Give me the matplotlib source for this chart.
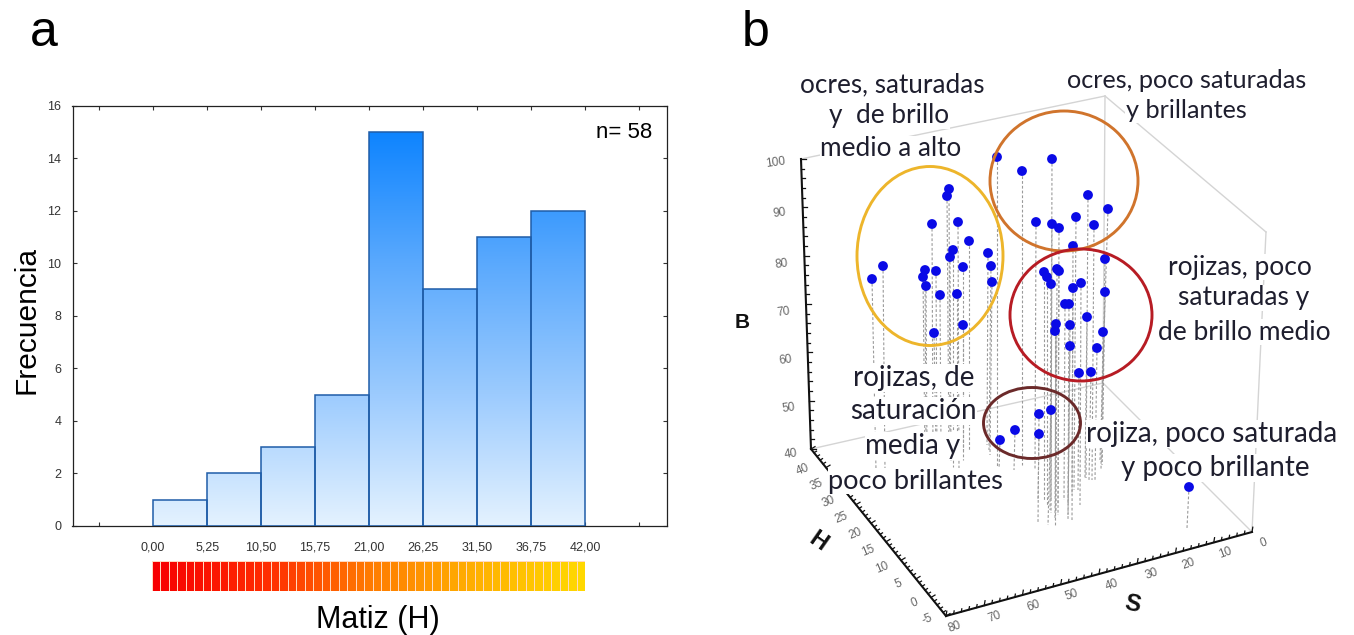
import numpy as np
import matplotlib
matplotlib.use("Agg")
import matplotlib.pyplot as plt
from matplotlib.patches import Ellipse
from matplotlib.colors import LinearSegmentedColormap

W, H = 1354, 635

# panel a
bin_edges = [0.00, 5.25, 10.50, 15.75, 21.00, 26.25, 31.50, 36.75, 42.00]
bin_labels = ["0,00", "5,25", "10,50", "15,75", "21,00", "26,25", "31,50", "36,75", "42,00"]
freq = [1, 2, 3, 5, 15, 9, 11, 12]
y_ticks = [0, 2, 4, 6, 8, 10, 12, 14, 16]

# panel b
pt_x = [997, 1022, 1052, 1088, 1108, 1036, 1052, 1059, 1076, 1094, 1073, 1105,
        949, 947, 932, 958, 969, 988, 991, 992, 953, 950, 963,
        883, 872, 925, 923, 936, 926, 940, 957, 963, 934,
        1044, 1047, 1051, 1057, 1059, 1081, 1073, 1105, 1065, 1069, 1087,
        1056, 1055, 1070, 1103, 1070, 1097, 1079, 1091,
        1051, 1039, 1015, 1000, 1039, 1189]
pt_y = [157, 171, 159, 195, 209, 222, 224, 228, 217, 225, 246, 259,
        189, 196, 224, 222, 241, 253, 266, 282, 250, 257, 267,
        266, 279, 270, 277, 271, 286, 295, 294, 325, 333,
        272, 277, 284, 269, 271, 283, 288, 292, 304, 304, 317,
        324, 331, 325, 332, 346, 348, 373, 372,
        410, 414, 430, 440, 434, 487]
stem_x = [997, 1022, 1051, 1086, 1100, 1035, 1051, 1058, 1074, 1092, 1072, 1102,
          950, 949, 933, 959, 969, 987, 989, 990, 953, 951, 963,
          885, 876, 926, 925, 937, 927, 941, 957, 963, 936,
          1044, 1047, 1050, 1056, 1058, 1080, 1072, 1102, 1064, 1068, 1085,
          1055, 1055, 1068, 1101, 1068, 1095, 1078, 1089,
          1048, 1038, 1014, 999, 1038, 1187]
stem_y = [470, 465, 513, 478, 460, 470, 500, 505, 490, 480, 495, 462,
          455, 460, 455, 470, 450, 445, 450, 455, 467, 462, 450,
          470, 470, 450, 455, 460, 450, 445, 460, 460, 450,
          500, 505, 510, 513, 515, 505, 520, 465, 500, 505, 478,
          520, 525, 520, 470, 515, 480, 490, 480,
          525, 523, 470, 470, 500, 528]

b_labels = ["100", "90", "80", "70", "60", "50", "40"]
b_label_x = [775, 780, 782, 784, 786, 789, 791]
b_label_y = [163, 213, 264, 312, 360, 408, 454]
h_labels = ["40", "35", "30", "25", "20", "15", "10", "5", "0", "-5"]
h_label_x = [803, 816, 828, 841, 855, 868, 882, 898, 914, 927]
h_label_y = [470, 485, 502, 518, 534, 551, 568, 584, 603, 619]
s_labels = ["80", "70", "60", "50", "40", "30", "20", "10", "0"]
s_label_x = [955, 995, 1034, 1072, 1112, 1152, 1189, 1225, 1264]
s_label_y = [627, 617, 606, 595, 585, 574, 564, 553, 543]

# cube corners
top_left = (801, 159)
bot_left = (811, 449)
front = (946, 616)
right = (1252, 532)
back_top = (1105, 96)
back_bot = (1103, 383)
side_top = (1266, 232)

ellipses = [
    (930, 256, 146, 179, "#EDB52B"),
    (1064, 181, 148, 140, "#D0742C"),
    (1081, 315, 142, 132, "#B71C24"),
    (1032, 423, 97, 71, "#6B2A2A"),
]

notes = [
    ("ocres, saturadas", 892, 85, 18.8),
    ("y  de brillo", 889, 116, 18.8),
    ("medio a alto", 891, 149, 18.8),
    ("ocres, poco saturadas", 1187, 81, 18.2),
    ("y brillantes", 1186, 111, 18.2),
    ("rojizas, poco", 1240, 267, 19),
    ("saturadas y", 1244, 298, 19),
    ("de brillo medio", 1244, 332, 19),
    ("rojizas, de", 914, 378, 20),
    ("saturación", 913, 411, 20),
    ("media y", 913, 446, 20),
    ("poco brillantes", 916, 481, 19.6),
    ("rojiza, poco saturada", 1212, 434, 20),
    ("y poco brillante", 1215, 468, 20),
]

fig = plt.figure(figsize=(W / 100, H / 100), dpi=100, facecolor="white")


def rect(x0, y0, x1, y1):
    return [x0 / W, 1 - y1 / H, (x1 - x0) / W, (y1 - y0) / H]


# ---- histogram
ax = fig.add_axes(rect(72.5, 105.5, 667, 526))
grad = LinearSegmentedColormap.from_list("g", ["#E4F2FF", "#9CCBFE", "#5AA9FD", "#0E84FF"])
ramp = np.linspace(0, 1, 256).reshape(-1, 1)
for i, n in enumerate(freq):
    bar = ax.bar(bin_edges[i], n, width=bin_edges[i + 1] - bin_edges[i], align="edge",
                 facecolor="none", edgecolor="#1F5DA8", linewidth=1.1, zorder=3)[0]
    im = ax.imshow(ramp, origin="lower", extent=[-8, 50, 0, 15], cmap=grad,
                   aspect="auto", zorder=2)
    im.set_clip_path(bar)

ax.set_xlim(-7.84, 49.97)
ax.set_ylim(0, 16)
ax.set_yticks(y_ticks)
ax.set_xticks([-5.25] + bin_edges + [47.25])
ax.set_xticklabels([""] + bin_labels + [""])
ax.tick_params(axis="both", direction="in", length=3, width=0.8, color="#333333",
               top=True, right=True, labelsize=9, labelcolor="#333333")
ax.tick_params(axis="x", pad=11)
ax.tick_params(axis="y", pad=8)
for lab in ax.get_xticklabels() + ax.get_yticklabels():
    lab.set_family("Liberation Sans")
for s in ax.spines.values():
    s.set_linewidth(0.9)
    s.set_color("#222222")

# colour strip under the histogram
strip = fig.add_axes(rect(152, 561, 585, 591))
hue = LinearSegmentedColormap.from_list("h", ["#F70000", "#FF2A00", "#FF7A00", "#FFB000", "#FFD800"])
strip.pcolormesh(np.linspace(0, 1, 52), [0, 1], np.linspace(0, 1, 51).reshape(1, -1),
                 cmap=hue, edgecolors="#FFD9C0", linewidth=0.4)
strip.axis("off")

# ---- overlay in picture coordinates, used for panel b and the big labels
ov = fig.add_axes([0, 0, 1, 1], facecolor="none")
ov.set_xlim(0, W)
ov.set_ylim(H, 0)
ov.axis("off")

arial = "Liberation Sans"
ov.text(44, 33, "a", fontsize=36, family=arial, ha="center", va="center")
ov.text(756, 33, "b", fontsize=36, family=arial, ha="center", va="center")
ov.text(27, 320, "Frecuencia", fontsize=21.5, family=arial, rotation=90, ha="center", va="center")
ov.text(378, 620, "Matiz (H)", fontsize=22, family=arial, ha="center", va="center")
ov.text(652, 132, "n= 58", fontsize=16, family=arial, ha="right", va="center")

# back of the cube
for p, q in [(top_left, back_top), (back_top, back_bot), (back_top, side_top),
             (side_top, right), (bot_left, back_bot), (back_bot, right)]:
    ov.plot([p[0], q[0]], [p[1], q[1]], color="#D4D4D4", lw=1, zorder=1)

for x, y, xb, yb in zip(pt_x, pt_y, stem_x, stem_y):
    ov.plot([x, xb], [y, yb], color="#9A9A9A", lw=0.8, ls=(0, (2.5, 1.8)), zorder=2)


def draw_axis(p, q, n_major, n_minor, dx, dy):
    ov.plot([p[0], q[0]], [p[1], q[1]], color="#111111", lw=1.5, zorder=3)
    for k, t in enumerate(np.linspace(0, 1, n_major * n_minor + 1)):
        x = p[0] + t * (q[0] - p[0])
        y = p[1] + t * (q[1] - p[1])
        scale = 1.6 if k % n_minor == 0 else 1
        ov.plot([x, x + dx * scale], [y, y + dy * scale], color="#111111", lw=0.9, zorder=3)


draw_axis(top_left, bot_left, 6, 5, 3, 0)
draw_axis(bot_left, front, 9, 5, 2.5, -1.5)
draw_axis(front, right, 8, 5, 0.5, -3)

tick_style = dict(fontsize=8.5, family=arial, color="#666666", ha="center", va="center")
for t, x, y in zip(b_labels, b_label_x, b_label_y):
    ov.text(x, y, t, rotation=8, **tick_style)
for t, x, y in zip(h_labels, h_label_x, h_label_y):
    ov.text(x, y, t, rotation=22, **tick_style)
for t, x, y in zip(s_labels, s_label_x, s_label_y):
    ov.text(x, y, t, rotation=20, **tick_style)

axis_style = dict(family=arial, fontweight="bold", color="#111111", ha="center", va="center")
ov.text(742, 323, "B", fontsize=15, **axis_style)
ov.text(818, 542, "H", rotation=-35, fontsize=17, **axis_style)
ov.text(1132, 604, "S", rotation=-12, fontsize=17, **axis_style)

ov.scatter(pt_x, pt_y, s=50, color="#0A0AE6", edgecolors="none", zorder=6)

for cx, cy, w, h, col in ellipses:
    ov.add_patch(Ellipse((cx, cy), w, h, fill=False, edgecolor=col, lw=2.1, zorder=7))

for t, x, y, size in notes:
    ov.text(x, y, t, fontsize=size, family="Lato", color="#1E1E2E", ha="center", va="center",
            zorder=5, bbox=dict(facecolor="white", edgecolor="none", pad=0.5))

fig.savefig("out.png", dpi=100)
